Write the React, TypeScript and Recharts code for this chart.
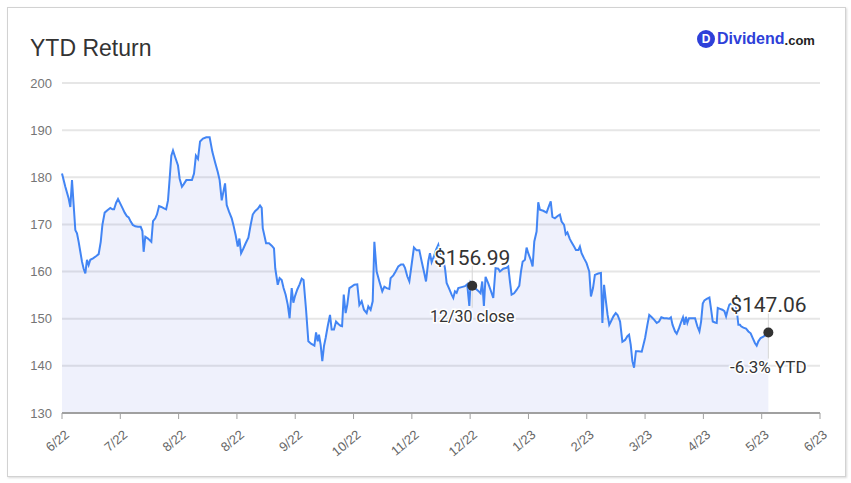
import { AreaChart, Area, XAxis, YAxis, CartesianGrid, ReferenceDot } from "recharts";

// x axis labels (one every 28 days) and y axis ticks
const tickLabels = ["6/22", "7/22", "8/22", "8/22", "9/22", "10/22", "11/22", "12/22", "1/23", "2/23", "3/23", "4/23", "5/23", "6/23"];
const tickDays = tickLabels.map((_, i) => i * 28);
const priceTicks = [130, 140, 150, 160, 170, 180, 190, 200];

// days since start of window
const days = [
  0, 1.6, 3.2, 4.0, 4.8, 5.6, 6.4, 7.2, 8.0, 8.8,
  9.6, 10.4, 11.2, 12.0, 12.8, 13.6, 14.9, 16.5, 17.6, 18.6,
  19.4, 20.5, 21.8, 23.2, 24.2, 25.0, 26.0, 26.9, 28.0, 29.0,
  30.1, 31.1, 32.0, 33.0, 34.0, 35.2, 36.5, 37.8, 38.6, 39.2,
  40.0, 41.3, 42.9, 43.7, 44.8, 45.6, 46.6, 47.7, 49.0, 50.0,
  50.9, 51.7, 52.5, 53.3, 54.4, 55.7, 56.5, 57.6, 58.4, 59.7,
  61.0, 62.4, 63.4, 64.3, 65.3, 66.3, 67.7, 69.3,
  70.9, 72.2, 73.5, 74.8, 75.7, 76.7, 77.5, 78.3, 79.1, 80.2,
  81.5, 82.3, 83.4, 84.4, 85.2, 86.0, 87.1, 88.2, 89.5, 90.6,
  91.6, 92.7, 94.0, 95.1, 95.9, 96.4, 98.0, 99.4, 100.7, 101.8,
  102.4, 103.6, 104.5, 105.5, 106.4, 107.4, 108.4, 109.3, 110.3, 111.1,
  111.9, 113.0, 114.1, 115.1, 116.0, 117.2, 118.3, 119.6, 121.2, 122.0,
  122.8, 123.4, 124.2, 125.0, 125.8, 126.6, 127.6, 128.7, 129.5, 130.6,
  131.6, 132.7, 133.8, 134.5, 135.3, 136.2, 137.0, 138.0, 139.1, 140.4,
  141.8, 142.8, 143.9, 145.0, 146.3, 147.1, 148.2, 149.2, 150.0, 151.1,
  152.4, 153.8, 154.8, 155.9, 157.2, 157.8, 159.1, 160.2, 161.5, 162.8,
  163.9, 164.7, 165.8, 166.8, 167.9, 169.0, 170.3, 171.6, 172.7, 173.8,
  174.8, 175.9, 176.7, 177.5, 178.6, 179.6, 180.7, 181.5, 182.8, 183.9,
  184.7, 185.8, 187.1, 187.9, 188.7, 189.5, 190.3, 191.9, 193.5, 194.6,
  195.6, 196.2, 197.0, 198.3, 199.9, 201.0, 201.8, 202.6, 203.4, 204.7,
  205.8, 207.1, 208.2, 209.5,
  210.3, 211.9, 213.5, 214.3, 215.1, 215.9, 217.1, 218.3, 219.6, 220.4,
  221.2, 222.3, 223.1, 223.9, 225.1, 226.0, 226.8, 227.9, 228.7, 229.5,
  231.1, 232.7, 234.0, 234.7, 235.5, 236.7, 238.0, 239.1, 239.9, 241.1,
  241.9, 242.7, 243.8, 244.7, 245.9, 246.8, 248.0, 248.7, 249.5, 250.7,
  251.9, 253.2, 254.0, 255.0, 255.9, 257.5, 258.8, 259.5, 260.3, 261.2,
  262.0, 262.8, 263.6, 264.8, 265.9, 266.8, 268.0, 269.1, 270.4, 271.5,
  272.3, 273.1, 273.9, 274.7, 275.6, 276.8, 278.4, 280.0,
  281.1, 282.0, 283.2, 284.3, 285.6, 286.7, 287.8, 289.1, 290.4, 291.6,
  292.4, 293.2, 294.4, 295.2, 296.3, 297.4, 298.2, 298.9, 299.6, 300.3,
  301.1, 302.4, 304.0, 305.1, 306.1, 306.9, 307.7, 308.5, 309.6, 310.9,
  311.5, 312.5, 313.6, 314.4, 314.9, 316.0, 317.1, 318.1, 318.9, 319.7,
  320.5, 321.6, 322.7, 324.0, 324.8, 325.6, 326.1, 327.2, 328.5, 329.6,
  330.7, 331.7, 332.8, 333.6, 334.4, 335.5, 336.8, 338.1, 339.2,
];

// closing price
const closes = [
  180.8, 178.0, 175.5, 173.7, 179.4, 174.1, 168.8, 168.1, 166.3, 164.2,
  162.1, 160.6, 159.6, 162.5, 161.4, 162.5, 162.8, 163.3, 163.7, 166.3,
  169.9, 172.5, 173.0, 173.5, 173.2, 173.2, 174.6, 175.4, 174.4, 173.5,
  172.5, 171.8, 171.5, 170.6, 169.9, 169.6, 169.5, 169.5, 168.6, 164.2,
  167.4, 167.0, 166.3, 170.7, 171.3, 172.1, 173.9, 173.7, 173.4, 173.2,
  175.1, 179.7, 184.6, 185.7, 184.2, 182.5, 179.7, 178.0, 178.5, 179.4,
  179.4, 179.4, 180.8, 184.6, 183.9, 187.6, 188.2, 188.5,
  188.5, 185.4, 183.2, 181.1, 179.4, 175.1, 176.9, 178.7, 174.1, 172.7,
  171.3, 169.9, 167.7, 165.3, 167.0, 163.9, 164.9, 166.0, 167.2, 169.9,
  172.1, 172.8, 173.3, 174.0, 173.5, 169.2, 166.0, 166.0, 165.5, 164.9,
  160.7, 157.2, 158.6, 158.2, 156.5, 155.1, 153.0, 150.1, 156.5, 153.4,
  154.8, 156.2, 157.3, 158.5, 158.2, 151.9, 145.2, 144.7, 144.3, 147.1,
  145.2, 146.6, 144.5, 141.0, 144.2, 145.9, 148.4, 150.8, 147.7, 147.7,
  149.4, 148.9, 148.5, 148.4, 155.1, 151.2, 153.0, 156.5, 156.8, 157.2,
  157.3, 152.9, 153.7, 151.9, 151.2, 152.6, 151.9, 153.7, 166.3, 160.0,
  157.9, 155.8, 156.8, 156.5, 156.3, 158.6, 159.2, 160.0, 161.1, 161.5,
  161.5, 160.8, 159.0, 157.9, 161.5, 165.1, 164.5, 164.5, 162.2, 160.0,
  157.9, 162.2, 163.9, 162.0, 163.2, 164.6, 165.7, 163.9, 162.9, 160.8,
  157.6, 156.5, 155.1, 154.4, 155.8, 155.5, 156.5, 156.7, 156.9, 157.3,
  152.7, 157.6, 156.99, 156.5, 155.9, 155.4, 157.9, 152.7, 158.9, 157.5,
  156.1, 154.4, 160.7, 160.6,
  160.0, 160.6, 160.8, 161.1, 157.9, 155.1, 155.4, 156.1, 157.0, 160.0,
  162.1, 162.5, 165.1, 163.9, 162.5, 161.1, 166.4, 168.5, 174.7, 173.1,
  172.9, 172.5, 174.1, 174.9, 171.6, 171.3, 171.8, 172.1, 170.6, 169.9,
  167.9, 168.3, 167.0, 166.2, 165.3, 164.6, 164.6, 165.3, 163.9, 162.8,
  161.8, 160.0, 154.7, 156.5, 159.3, 159.6, 159.7, 149.1, 157.2, 153.7,
  150.8, 148.7, 149.4, 150.5, 151.2, 150.8, 149.4, 145.1, 145.5, 146.3,
  146.6, 144.5, 141.0, 139.6, 143.1, 143.1, 143.0, 145.9,
  148.7, 150.8, 150.3, 149.8, 149.1, 149.4, 150.3, 150.1, 150.1, 150.0,
  150.3, 148.7, 147.3, 146.8, 148.0, 149.4, 150.3, 148.7, 150.4, 149.1,
  150.1, 150.1, 150.1, 148.4, 147.3, 149.4, 153.2, 153.9, 154.2, 154.5,
  152.6, 149.4, 149.2, 149.1, 152.3, 152.1, 151.9, 151.6, 150.5, 151.9,
  153.0, 153.3, 153.0, 151.9, 148.7, 148.7, 148.4, 148.1, 147.9, 147.3,
  146.9, 145.9, 144.8, 144.3, 145.2, 145.9, 146.2, 146.6, 147.06,
];

const yearEndDay = 197.0;
const yearEndClose = 156.99;
const lastDay = days[days.length - 1];
const lastClose = closes[closes.length - 1];
const ytdPct = (lastClose / yearEndClose - 1) * 100;

const data = days.map((day, i) => ({ day, close: closes[i] }));

const axisFont = "'Liberation Sans', Arial, sans-serif";
const noteFont = "Roboto, 'Noto Sans', sans-serif";

const XTick = (props: any) => {
  const { x, y, payload } = props;
  const label = tickLabels[tickDays.indexOf(payload.value)];
  const ax = x + 8;
  const ay = y + 15;
  return (
    <text
      x={ax}
      y={ay}
      transform={`rotate(-40, ${ax}, ${ay})`}
      textAnchor="end"
      fill="#666"
      fontSize={13}
      fontFamily={axisFont}
    >
      {label}
    </text>
  );
};

// dot with a price above and a note below
const Marker = (props: any) => {
  const { cx, cy, price, note, noteSize, noteGap } = props;
  return (
    <g>
      <line x1={cx} x2={cx} y1={cy - 20} y2={cy + noteGap - 14} stroke="#d6d6d6" strokeWidth={1} />
      <circle cx={cx} cy={cy} r={5} fill="#333" />
      <text
        x={cx}
        y={cy - 21}
        textAnchor="middle"
        fontSize={21}
        fontFamily={noteFont}
        fill="#333"
        stroke="#fff"
        strokeWidth={3}
        paintOrder="stroke"
      >
        {price}
      </text>
      <text
        x={cx}
        y={cy + noteGap}
        textAnchor="middle"
        fontSize={noteSize}
        fontFamily={noteFont}
        fill="#333"
        stroke="#fff"
        strokeWidth={3}
        paintOrder="stroke"
      >
        {note}
      </text>
    </g>
  );
};

export default function App() {
  return (
    <div
      style={{
        position: "absolute",
        left: 7,
        top: 7,
        width: 837,
        height: 468,
        border: "1px solid #d2d2d2",
        boxShadow: "1px 1px 2px rgba(0,0,0,0.15)",
        background: "#fff",
      }}
    >
      <div
        style={{
          position: "absolute",
          left: 22,
          top: 27,
          fontFamily: axisFont,
          fontSize: 23,
          color: "#333",
        }}
      >
        YTD Return
      </div>
      <div
        style={{
          position: "absolute",
          left: 689,
          top: 22,
          display: "flex",
          alignItems: "center",
          fontFamily: axisFont,
        }}
      >
        <div
          style={{
            width: 18,
            height: 18,
            borderRadius: 9,
            background: "#2e40d9",
            color: "#fff",
            fontSize: 12,
            fontWeight: 700,
            display: "flex",
            alignItems: "center",
            justifyContent: "center",
            marginRight: 2,
          }}
        >
          D
        </div>
        <span style={{ color: "#2e40d9", fontSize: 16, fontWeight: 700 }}>Dividend</span>
        <span style={{ color: "#222", fontSize: 13, fontWeight: 700, marginTop: 3 }}>.com</span>
      </div>
      <AreaChart width={837} height={468} data={data} margin={{ top: 75, right: 25, left: 0, bottom: 0 }}>
        <CartesianGrid horizontal vertical={false} stroke="#e6e6e6" strokeWidth={2} />
        <XAxis
          dataKey="day"
          type="number"
          domain={[0, tickDays[tickDays.length - 1]]}
          ticks={tickDays}
          interval={0}
          height={63}
          axisLine={{ stroke: "#a0a0a0", strokeWidth: 2 }}
          tickLine={{ stroke: "#a0a0a0" }}
          tickSize={6}
          tick={<XTick />}
        />
        <YAxis
          type="number"
          domain={[130, 200]}
          ticks={priceTicks}
          width={54}
          axisLine={false}
          tickLine={false}
          tickSize={0}
          tickMargin={10}
          tick={{ fill: "#757575", fontSize: 13, fontFamily: axisFont }}
        />
        <Area
          type="linear"
          dataKey="close"
          stroke="#4285f4"
          strokeWidth={2}
          fill="#5060dc"
          fillOpacity={0.09}
          dot={false}
          activeDot={false}
          isAnimationActive={false}
        />
        <ReferenceDot
          x={yearEndDay}
          y={yearEndClose}
          shape={(p: any) => (
            <Marker {...p} price={`$${yearEndClose.toFixed(2)}`} note="12/30 close" noteSize={16} noteGap={36} />
          )}
        />
        <ReferenceDot
          x={lastDay}
          y={lastClose}
          shape={(p: any) => (
            <Marker {...p} price={`$${lastClose.toFixed(2)}`} note={`${ytdPct.toFixed(1)}% YTD`} noteSize={17} noteGap={40} />
          )}
        />
      </AreaChart>
    </div>
  );
}
